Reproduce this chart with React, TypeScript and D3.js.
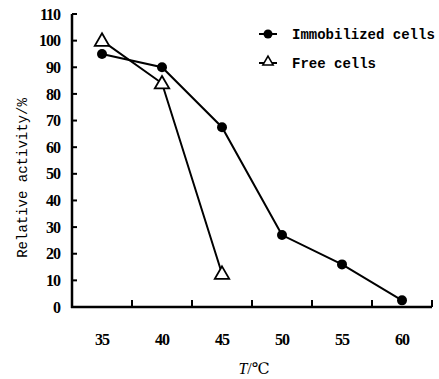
import React from "react";
import * as d3 from "d3";

// temperature categories and relative activity (%)
const temps = ["35", "40", "45", "50", "55", "60"];
const immobilized = [95, 90, 67.5, 27, 16, 2.5];
const free = [100, 84, 12.5];
const yTicks = [0, 10, 20, 30, 40, 50, 60, 70, 80, 90, 100, 110];

const width = 439;
const height = 379;
const marginLeft = 72;
const marginRight = 7;
const marginTop = 14;
const axisY = 307;

const App: React.FC = () => {
  const x = d3.scaleBand<string>().domain(temps).range([marginLeft, width - marginRight]).padding(0);
  const y = d3.scaleLinear().domain([0, 110]).range([axisY, marginTop]);
  const cx = (t: string) => (x(t) ?? 0) + x.bandwidth() / 2;

  const line = d3.line<number>()
    .x((_, i) => cx(temps[i]))
    .y((d) => y(d));

  const tri = d3.symbol().type(d3.symbolTriangle).size(90);
  const boundaries = temps.map((t) => x(t) ?? 0).concat([width - marginRight]);

  const serif = "'Liberation Serif', 'DejaVu Serif', serif";
  const mono = "'Liberation Mono', 'DejaVu Sans Mono', monospace";

  return (
    <svg width={width} height={height} style={{ position: "absolute", left: 0, top: 0, background: "#fff" }}>
      {/* axes */}
      <line x1={marginLeft} x2={marginLeft} y1={marginTop} y2={axisY + 1} stroke="#000" strokeWidth={2.5} />
      <line x1={marginLeft - 1} x2={width - marginRight} y1={axisY} y2={axisY} stroke="#000" strokeWidth={2.5} />
      {yTicks.map((t) => (
        <g key={t}>
          <line x1={marginLeft} x2={marginLeft + 5} y1={y(t)} y2={y(t)} stroke="#000" strokeWidth={2} />
          <text x={60} y={y(t)} dy="0.35em" textAnchor="end" fontFamily={serif} fontSize={16} fontWeight="bold" letterSpacing={-1}>
            {t}
          </text>
        </g>
      ))}
      {boundaries.slice(1).map((b, i) => (
        <line key={i} x1={b} x2={b} y1={axisY} y2={axisY - 7} stroke="#000" strokeWidth={2} />
      ))}
      {temps.map((t) => (
        <text key={t} x={cx(t)} y={339} dy="0.35em" textAnchor="middle" fontFamily={serif} fontSize={16} fontWeight="bold" letterSpacing={-1}>
          {t}
        </text>
      ))}
      <text x={254} y={368} dy="0.35em" textAnchor="middle" fontFamily={serif} fontSize={16}>
        <tspan fontStyle="italic">T</tspan>/℃
      </text>
      <text transform="translate(22,178) rotate(-90)" dy="0.35em" textAnchor="middle" fontFamily={mono} fontSize={14}>
        Relative activity/%
      </text>

      {/* series */}
      <path d={line(immobilized) ?? ""} fill="none" stroke="#000" strokeWidth={2} />
      <path d={line(free) ?? ""} fill="none" stroke="#000" strokeWidth={2} />
      {immobilized.map((v, i) => (
        <circle key={i} cx={cx(temps[i])} cy={y(v)} r={5} fill="#000" />
      ))}
      {free.map((v, i) => (
        <path key={i} d={tri() ?? ""} transform={`translate(${cx(temps[i])},${y(v) + 1})`} fill="#fff" stroke="#000" strokeWidth={1.8} />
      ))}

      {/* legend */}
      <g>
        <line x1={259} x2={277} y1={34} y2={34} stroke="#000" strokeWidth={2} />
        <circle cx={268} cy={34} r={4.5} fill="#000" />
        <text x={292} y={34} dy="0.35em" fontFamily={mono} fontSize={14} fontWeight="bold">Immobilized cells</text>
        <line x1={259} x2={277} y1={63} y2={63} stroke="#000" strokeWidth={2} />
        <path d={d3.symbol().type(d3.symbolTriangle).size(45)() ?? ""} transform="translate(268,62)" fill="#fff" stroke="#000" strokeWidth={1.6} />
        <text x={292} y={63} dy="0.35em" fontFamily={mono} fontSize={14} fontWeight="bold">Free cells</text>
      </g>
    </svg>
  );
};

export default App;
